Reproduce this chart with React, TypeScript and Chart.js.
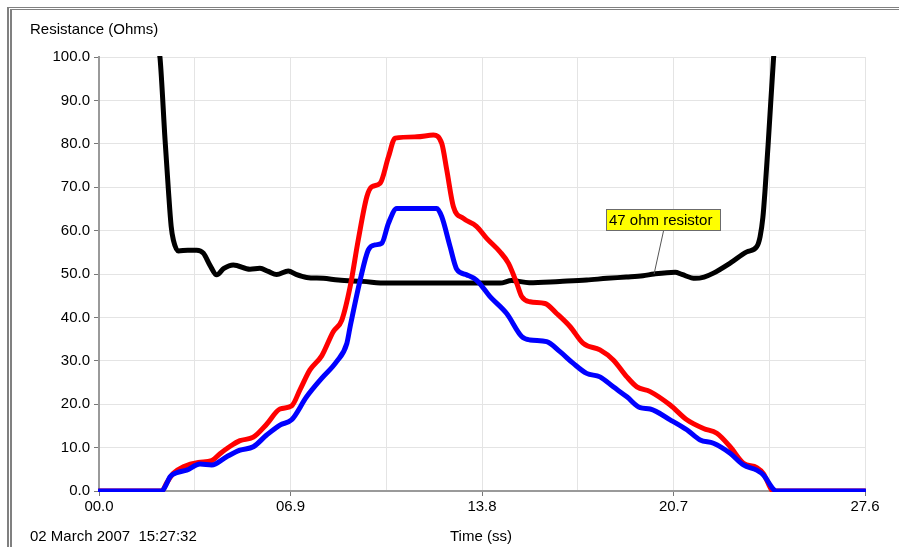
import React, { useEffect, useRef } from "react";
import { Chart, registerables } from "chart.js";

Chart.register(...registerables);

// ---- Data (time in seconds, resistance in ohms) ----
const blackT = [2.17, 2.2, 2.38, 2.5, 2.6, 2.68, 2.86, 3.2, 3.52, 3.76, 4.0, 4.24, 4.5, 4.84, 5.44, 5.8, 6.1, 6.4, 6.82, 7.1, 7.48, 8.08, 8.62, 9.5, 10.37, 12.05, 13.73, 14.45, 14.87, 15.5, 16.6, 17.57, 18.3, 19.0, 19.6, 20.0, 20.76, 21.0, 21.48, 21.8, 22.14, 22.74, 23.34, 23.7, 23.82, 23.92, 24.0, 24.12, 24.3, 24.32];
const blackR = [101, 99.7, 80.9, 69.4, 61.0, 57.8, 55.3, 55.5, 55.5, 54.8, 52.0, 49.8, 51.3, 52.1, 51.1, 51.3, 50.6, 49.9, 50.7, 49.9, 49.2, 49.0, 48.6, 48.3, 47.9, 47.9, 47.9, 47.9, 48.5, 48.0, 48.3, 48.6, 49.0, 49.3, 49.6, 50.0, 50.4, 49.9, 49.0, 49.3, 50.2, 52.5, 55.1, 56.3, 58.6, 63.0, 69.4, 80.9, 99.3, 101];

const redT = [0, 2.26, 2.45, 2.68, 3.04, 3.58, 4.06, 4.36, 4.7, 5.08, 5.56, 6.04, 6.52, 6.94, 7.24, 7.6, 8.03, 8.44, 8.75, 9.05, 9.34, 9.65, 9.83, 10.13, 10.43, 10.67, 11.45, 12.05, 12.35, 12.53, 12.77, 13.13, 13.6, 13.97, 14.45, 14.75, 15.05, 15.23, 15.53, 16.07, 16.49, 16.97, 17.45, 18.05, 18.53, 19.02, 19.38, 19.86, 20.58, 21.18, 21.78, 22.26, 22.74, 23.22, 23.7, 23.94, 24.24, 24.3, 27.6];
const redR = [0, 0, 2.0, 4.1, 5.6, 6.6, 7.0, 8.6, 10.2, 11.6, 12.4, 15.4, 18.9, 19.6, 23.3, 27.9, 31.2, 36.7, 39.4, 47.1, 57.8, 67.8, 70.1, 70.9, 77.0, 81.3, 81.6, 82.0, 80.1, 74.0, 65.5, 62.8, 61.0, 58.2, 55.1, 52.5, 47.9, 44.8, 43.6, 43.2, 40.9, 37.9, 34.0, 32.5, 30.2, 26.3, 24.0, 22.9, 19.8, 16.4, 14.4, 13.3, 10.2, 6.4, 5.4, 4.0, 0.2, 0, 0];

const blueT = [0, 2.26, 2.4, 2.56, 2.8, 3.16, 3.64, 4.06, 4.6, 5.08, 5.56, 6.04, 6.52, 6.94, 7.48, 8.03, 8.56, 8.93, 9.05, 9.41, 9.7, 9.95, 10.19, 10.43, 10.73, 12.17, 12.35, 12.65, 12.89, 13.25, 13.6, 14.09, 14.69, 15.23, 15.53, 16.13, 16.61, 17.09, 17.57, 18.05, 18.53, 19.02, 19.5, 19.86, 20.58, 21.18, 21.66, 22.14, 22.74, 23.22, 23.7, 23.94, 24.3, 24.4, 27.6];
const blueR = [0, 0, 1.2, 3.3, 4.2, 4.8, 6.2, 6.0, 7.9, 9.4, 10.2, 12.9, 15.2, 16.4, 21.7, 26.0, 29.8, 34.0, 37.9, 48.6, 55.5, 56.7, 57.1, 61.7, 65.1, 65.1, 63.2, 56.3, 51.1, 49.8, 48.6, 44.8, 40.9, 35.6, 34.8, 34.4, 32.1, 29.4, 27.1, 26.3, 24.0, 21.7, 19.2, 18.9, 16.4, 14.1, 11.75, 11.0, 8.7, 6.0, 4.8, 3.7, 0.4, 0, 0];

const xTicks = [0, 3.45, 6.9, 10.35, 13.8, 17.25, 20.7, 24.15, 27.6];
const yTicks = [0, 10, 20, 30, 40, 50, 60, 70, 80, 90, 100];

const Y_TITLE = "Resistance (Ohms)";
const X_TITLE = "Time (ss)";
const DATE_TEXT = "02 March 2007  15:27:32";
const ANNOT_TEXT = "47 ohm resistor";
const ANNOT_AT = { t: 20.0, r: 50.0 };
const ANNOT_BOX = { t: 18.27, r: 65.0 };

const FONT_FAMILY = '"Liberation Sans", Arial, sans-serif';

const zip = (ts: number[], rs: number[]) => ts.map((t, i) => ({ x: t, y: rs[i] }));
const padLabel = (v: number) => {
  const s = v.toFixed(1);
  return s.length < 4 ? "0" + s : s;
};

const annotationPlugin = {
  id: "annot",
  afterDatasetsDraw(chart: any) {
    const { ctx, scales } = chart;
    const x = scales.x, y = scales.y;
    const px = x.getPixelForValue(ANNOT_AT.t);
    const py = y.getPixelForValue(ANNOT_AT.r);
    const bx = Math.round(x.getPixelForValue(ANNOT_BOX.t));
    const by = Math.round(y.getPixelForValue(ANNOT_BOX.r));
    ctx.save();
    ctx.font = "15px " + FONT_FAMILY;
    const tw = ctx.measureText(ANNOT_TEXT).width;
    const w = Math.round(tw + 12);
    const h = 22;
    ctx.strokeStyle = "#555";
    ctx.lineWidth = 1;
    ctx.beginPath();
    ctx.moveTo(bx + w / 2, by + h);
    ctx.lineTo(px, py);
    ctx.stroke();
    ctx.fillStyle = "#ffff00";
    ctx.fillRect(bx, by, w, h);
    ctx.strokeStyle = "#6b6b6b";
    ctx.strokeRect(bx + 0.5, by + 0.5, w - 1, h - 1);
    ctx.fillStyle = "#000";
    ctx.textBaseline = "alphabetic";
    ctx.textAlign = "left";
    ctx.fillText(ANNOT_TEXT, bx + 3, by + 16);
    ctx.restore();
  },
};

export default function App() {
  const ref = useRef<HTMLCanvasElement | null>(null);

  useEffect(() => {
    if (!ref.current) return;
    const lineDs = (label: string, data: any[], color: string) => ({
      label,
      data,
      borderColor: color,
      backgroundColor: color,
      borderWidth: 5,
      pointRadius: 0,
      cubicInterpolationMode: "monotone" as const,
      borderJoinStyle: "round" as const,
      borderCapStyle: "round" as const,
      clip: 1,
    });
    const chart = new Chart(ref.current, {
      type: "line",
      data: {
        datasets: [
          lineDs("Blue", zip(blueT, blueR), "#0000ff"),
          lineDs("Red", zip(redT, redR), "#ff0000"),
          lineDs("47 ohm resistor", zip(blackT, blackR), "#000000"),
        ],
      },
      options: {
        animation: false,
        responsive: false,
        devicePixelRatio: 1,
        parsing: false as any,
        layout: { padding: { top: 57, right: 34, left: 0, bottom: 0 } },
        plugins: {
          legend: { display: false },
          tooltip: { enabled: false },
          title: { display: false },
        },
        scales: {
          x: {
            type: "linear",
            min: 0,
            max: 27.6,
            afterBuildTicks: (scale: any) => {
              scale.ticks = xTicks.map((v) => ({ value: v }));
            },
            afterFit: (scale: any) => {
              scale.height = 56;
            },
            ticks: {
              autoSkip: false,
              maxRotation: 0,
              padding: 2,
              color: "#000",
              font: { family: FONT_FAMILY, size: 15 },
              callback: (v: any, i: number) => (i % 2 === 0 ? padLabel(Number(v)) : ""),
            },
            grid: {
              color: "#e4e4e4",
              lineWidth: 1,
              tickLength: 5,
              tickColor: (c: any) => (c.index % 2 === 0 ? "#777" : "rgba(0,0,0,0)"),
            },
            border: { color: "#9a9a9a", width: 2 },
          },
          y: {
            type: "linear",
            min: 0,
            max: 100,
            afterBuildTicks: (scale: any) => {
              scale.ticks = yTicks.map((v) => ({ value: v }));
            },
            afterFit: (scale: any) => {
              scale.width = 99;
            },
            ticks: {
              padding: 4,
              color: "#000",
              font: { family: FONT_FAMILY, size: 15 },
              callback: (v: any) => Number(v).toFixed(1),
            },
            grid: {
              color: "#e4e4e4",
              lineWidth: 1,
              tickLength: 5,
              tickColor: "#777",
            },
            border: { color: "#9a9a9a", width: 2 },
          },
        },
      },
      plugins: [annotationPlugin],
    });
    return () => chart.destroy();
  }, []);

  const textStyle: React.CSSProperties = {
    position: "absolute",
    fontFamily: FONT_FAMILY,
    fontSize: 15,
    lineHeight: "15px",
    color: "#000",
    whiteSpace: "pre",
  };

  return (
    <div style={{ position: "fixed", left: 0, top: 0, width: 899, height: 547, background: "#fff", overflow: "hidden" }}>
      <div
        style={{
          position: "absolute",
          left: 7,
          top: 7,
          right: 0,
          bottom: 0,
          borderLeft: "5px double #808080",
          borderTop: "3px double #808080",
        }}
      />
      <canvas ref={ref} width={899} height={547} style={{ position: "absolute", left: 0, top: 0, width: 899, height: 547 }} />
      <div style={{ ...textStyle, left: 30, top: 21 }}>{Y_TITLE}</div>
      <div style={{ ...textStyle, left: 30, top: 528 }}>{DATE_TEXT}</div>
      <div style={{ ...textStyle, left: 450, top: 528 }}>{X_TITLE}</div>
    </div>
  );
}
